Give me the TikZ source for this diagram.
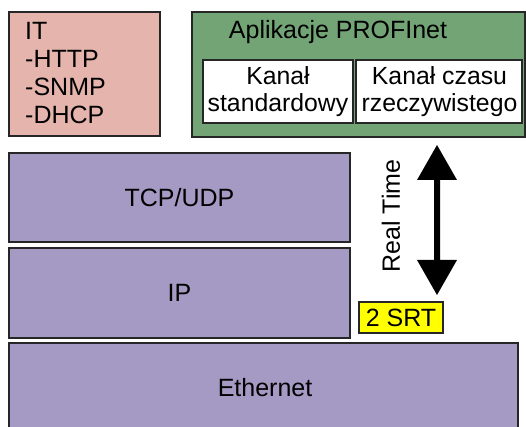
\documentclass[tikz,border=0pt]{standalone}
\usepackage{fontspec}
\setmainfont{Liberation Sans}
\begin{document}
\begin{tikzpicture}[x=1pt,y=1pt,
  frame/.style={draw=black!85,line width=1.1pt},
  layer/.style={frame,fill=layerpurple},
  lbl/.style={font=\fontsize{25}{27.8}\selectfont,inner sep=0pt},
  wtext/.style={align=center,font=\fontsize{24.8}{27.8}\selectfont,inner sep=0pt}]
\definecolor{layerpurple}{HTML}{A59AC4}
\definecolor{itpink}{HTML}{E5B4AC}
\definecolor{appgreen}{HTML}{72A476}
\definecolor{srtyellow}{HTML}{FFFF00}
\useasboundingbox (0,0) rectangle (526,427);
\clip (0,0) rectangle (526,427);

% IT services box
\draw[frame,fill=itpink] (9,291) rectangle (160,415);
\node[lbl,anchor=west,align=left] (it) at (25,354) {IT\\-HTTP\\-SNMP\\-DHCP};

% PROFInet applications box
\draw[frame,fill=appgreen] (192,290) rectangle (525,415);
\node[lbl] (app) at (338,395) {Aplikacje PROFInet};
\draw[frame,fill=white] (203,304) rectangle (353,367);
\node[wtext] (std) at (278,335.5) {Kanał\\standardowy};
\draw[frame,fill=white] (356,304) rectangle (522,367);
\node[wtext] (rt) at (439.5,335.5) {Kanał czasu\\rzeczywistego};

% protocol stack
\draw[layer] (9,185) rectangle (350,274);
\node[lbl] (tcp) at (179.5,229.5) {TCP/UDP};
\draw[layer] (9,89) rectangle (350,179);
\node[lbl] (ip) at (179.5,134) {IP};
\draw[layer] (9,-5) rectangle (518,84);
\node[lbl] (eth) at (265,39.5) {Ethernet};

% real-time double arrow
\fill[black] (437,282) -- (457,247) -- (440,247) -- (440,167) -- (457,167)
  -- (437,132) -- (417,167) -- (434,167) -- (434,247) -- (417,247) -- cycle;
\node[lbl,rotate=90] (rtime) at (391,211) {Real Time};

% SRT tag
\node[lbl,frame,fill=srtyellow,minimum width=84pt,
  minimum height=31pt] (srt) at (401,109.5) {2 SRT};
\end{tikzpicture}
\end{document}
